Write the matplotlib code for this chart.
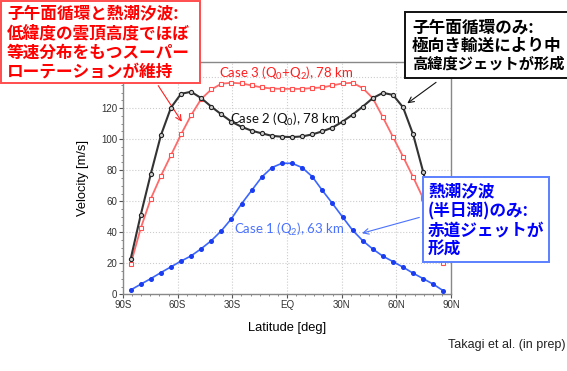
import matplotlib
matplotlib.use('Agg')
import matplotlib.pyplot as plt
from matplotlib.patches import Rectangle
from matplotlib.ticker import MultipleLocator

plt.rcParams['mathtext.default'] = 'regular'

# Gaussian latitudes (32 points, south -> north)
lat = [-85.76, -80.27, -74.75, -69.21, -63.68, -58.14, -52.61, -47.07,
       -41.53, -36.00, -30.46, -24.92, -19.39, -13.85, -8.31, -2.77,
       2.77, 8.31, 13.85, 19.39, 24.92, 30.46, 36.00, 41.53,
       47.07, 52.61, 58.14, 63.68, 69.21, 74.75, 80.27, 85.76]

# Case 1 (Q2), 63 km
case1 = [2.8, 6.5, 10.1, 14.0, 17.7, 21.4, 24.8, 29.4,
         34.6, 41.0, 48.8, 58.4, 67.0, 75.6, 81.7, 84.5,
         84.5, 81.7, 75.9, 67.0, 58.6, 49.9, 41.3, 34.6,
         29.2, 24.6, 21.1, 17.5, 13.6, 10.1, 6.5, 2.3]

# Case 2 (Q0), 78 km
case2 = [22.9, 51.2, 77.6, 102.5, 120.4, 129.3, 130.6, 126.5,
         121.0, 116.0, 111.3, 108.0, 105.5, 103.8, 102.2, 101.6,
         101.4, 101.8, 103.1, 105.1, 107.5, 111.3, 115.9, 121.0,
         126.5, 129.9, 128.6, 120.6, 103.1, 78.9, 51.0, 23.0]

# Case 3 (Q0+Q2), 78 km
case3 = [19.5, 42.6, 61.6, 76.3, 89.7, 103.1, 115.5, 126.0,
         132.1, 135.8, 136.4, 136.0, 134.7, 133.4, 132.7, 132.5,
         132.5, 132.5, 133.0, 133.4, 134.7, 136.0, 136.4, 133.0,
         126.5, 114.2, 101.5, 88.8, 75.6, 61.8, 42.6, 20.5]

xticks = [-90, -60, -30, 0, 30, 60, 90]
xticklabels = ['90S', '60S', '30S', 'EQ', '30N', '60N', '90N']
yticks = [0, 20, 40, 60, 80, 100, 120, 140]
yticklabels = ['0', '20', '40', '60', '80', '100', '120', '']  # 140 is hidden under the box

W, H = 567, 371
fig = plt.figure(figsize=(W / 100, H / 100), dpi=100)
ax = fig.add_axes([123 / W, 1 - 294.3 / H, (451 - 123) / W, (294.3 - 61.7) / H])

ax.plot(lat, case1, color='#3a66ff', lw=1.2, marker='o', ms=2.6,
        mfc='#1a3cf0', mec='#1a3cf0', zorder=3)
ax.plot(lat, case3, color='#ff6a6a', lw=1.3, marker='s', ms=3.2,
        mfc='white', mec='#ff5050', mew=0.8, zorder=3)
ax.plot(lat, case2, color='#333333', lw=1.5, marker='o', ms=3.0,
        mfc='#cccccc', mec='#222222', mew=0.8, zorder=4)

ax.set_xlim(-90, 90)
ax.set_ylim(0, 150)
ax.set_xticks(xticks)
ax.set_xticklabels(xticklabels)
ax.set_yticks(yticks)
ax.set_yticklabels(yticklabels)
ax.xaxis.set_minor_locator(MultipleLocator(5))
ax.yaxis.set_minor_locator(MultipleLocator(5))
ax.tick_params(which='major', length=3, width=0.8, color='#555555',
               labelsize=7, labelcolor='#333333', pad=1)
ax.tick_params(which='minor', length=1.5, width=0.6, color='#777777')
for lab in ax.get_xticklabels() + ax.get_yticklabels():
    lab.set_family('Liberation Sans')
ax.grid(True, which='major', color='#cccccc', ls=':', lw=0.8)
for s in ax.spines.values():
    s.set_color('#888888')
    s.set_linewidth(1.0)

ax.set_xlabel('Latitude [deg]', family='Liberation Sans', fontsize=9.3, labelpad=8.5)
ax.set_ylabel('Velocity [m/s]', family='Liberation Sans', fontsize=9.3, labelpad=9)

# line labels
ax.text(-37.3, 142.7, 'Case 3 (Q$_0$+Q$_2$), 78 km', color='#ff2020',
        family='Lato', fontsize=9.5, va='center')
ax.text(-31.3, 113, 'Case 2 (Q$_0$), 78 km', color='#111111',
        family='Lato', fontsize=9.5, va='center')
ax.text(-29.1, 41.7, 'Case 1 (Q$_2$), 63 km', color='#4a72ff',
        family='Lato', fontsize=9.5, va='center')

# arrows from the comment boxes
ax.annotate('', xy=(-56.9, 109.8), xytext=(156.7 / W, 1 - 83.3 / H),
            textcoords='figure fraction', annotation_clip=False,
            arrowprops=dict(arrowstyle='->', color='#ff2020', lw=0.8))
ax.annotate('', xy=(64.8, 122.1), xytext=(438.3 / W, 1 - 80.7 / H),
            textcoords='figure fraction', annotation_clip=False,
            arrowprops=dict(arrowstyle='->', color='#111111', lw=0.8))
ax.annotate('', xy=(39.7, 38.9), xytext=(422 / W, 1 - 216.7 / H),
            textcoords='figure fraction', annotation_clip=False,
            arrowprops=dict(arrowstyle='->', color='#4a72ff', lw=0.8))

cjk = ['Noto Sans CJK JP', 'DejaVu Sans']


def box(x0, y0, x1, y1, ec, lines, tx, ty, sizes, color):
    fig.add_artist(Rectangle((x0 / W, 1 - y1 / H), (x1 - x0) / W, (y1 - y0) / H,
                             transform=fig.transFigure, fc='white', ec=ec,
                             lw=1.4, zorder=5))
    for t, y, fs in zip(lines, ty, sizes):
        fig.text(tx / W, 1 - y / H, t, family=cjk, fontweight='bold',
                 fontsize=fs, color=color, va='center', ha='left', zorder=6)


box(1, 1, 200, 83, '#ff4d4d',
    ['子午面循環と熱潮汐波:', '低緯度の雲頂高度でほぼ', '等速分布をもつスーパー', 'ローテーションが維持'],
    7, [13.5, 33, 52.5, 71.5], [12, 12, 12, 12], '#ff0000')
box(405, 12, 580, 78, '#111111',
    ['子午面循環のみ:', '極向き輸送により中', '高緯度ジェットが形成'],
    412, [27, 45.5, 64], [12, 12, 11], '#000000')
box(423, 177, 549, 262, '#5b7fff',
    ['熱潮汐波', '(半日潮)のみ:', '赤道ジェットが', '形成'],
    428, [191, 211.5, 231.5, 250], [12, 12, 12, 12], '#0000ff')

fig.text(565 / W, 1 - 345 / H, 'Takagi et al. (in prep)', family='Liberation Sans',
         fontsize=9, ha='right', va='center', color='#222222')

fig.savefig('out.png', dpi=100)
